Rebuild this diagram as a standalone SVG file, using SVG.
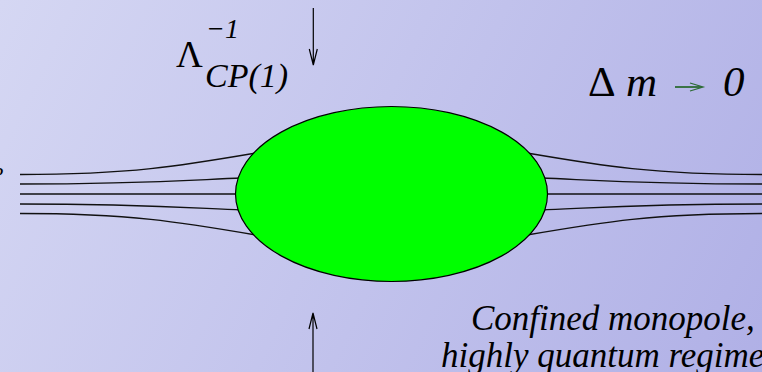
<svg xmlns="http://www.w3.org/2000/svg" width="762" height="372" viewBox="0 0 762 372">
<defs>
<linearGradient id="bg" x1="0" y1="0" x2="762" y2="372" gradientUnits="userSpaceOnUse">
<stop offset="0" stop-color="#d5d7f3"/>
<stop offset="1" stop-color="#b0b0e6"/>
</linearGradient>
<style>
.fl{fill:none;stroke:#111;stroke-width:1.3}
.ar{fill:none;stroke:#000;stroke-width:1.2}
text{font-family:'Liberation Serif','Times New Roman',Times,serif;fill:#000}
.i{font-style:italic}
</style>
</defs>
<rect width="762" height="372" fill="url(#bg)"/>
<g id="connectors">
<path class="fl" d="M20,174.5 C130,174.5 180,166 256,153"/>
<path class="fl" d="M20,184 C140,184 190,180 242,178"/>
<path class="fl" d="M20,194 L245,194"/>
<path class="fl" d="M20,204 C140,204 190,208 242,210"/>
<path class="fl" d="M20,213.5 C130,213.5 180,222 256,235"/>
<path class="fl" d="M527,153 C603,166 653,174.5 763,174.5 L770,174.5"/>
<path class="fl" d="M541,178 C593,180 643,184 763,184 L770,184"/>
<path class="fl" d="M538,194 L770,194"/>
<path class="fl" d="M541,210 C593,208 643,204 763,204 L770,204"/>
<path class="fl" d="M527,235 C603,222 653,213.5 763,213.5 L770,213.5"/>
<path class="ar" d="M313.3,8 L313.3,65 M309.3,49 L313.3,65 L317.3,49"/>
<path class="ar" d="M313,372 L313,313 M309,329 L313,313 L317,329"/>
</g>
<g id="monopole">
<ellipse cx="391.5" cy="194" rx="156" ry="87.5" fill="#00ff00" stroke="#000" stroke-width="1.2"/>
</g>
<g id="lambda-label">
<text x="176" y="67" font-size="37">Λ</text>
<text class="i" x="206" y="38" font-size="28">−1</text>
<text class="i" x="205" y="87" font-size="34">CP(1)</text>
</g>
<g id="delta-m-label">
<text x="588" y="96" font-size="43">Δ</text>
<text class="i" x="626" y="96" font-size="43">m</text>
<path d="M675,87 L702,87" stroke="#2d6b35" stroke-width="1.8" fill="none"/>
<path d="M690,83 L703,87 L690,91" stroke="#2d6b35" stroke-width="1.3" fill="none"/>
<text class="i" x="723" y="96" font-size="43">0</text>
</g>
<g id="caption">
<text class="i" x="471" y="330" font-size="35">Confined monopole,</text>
<text class="i" x="441" y="367" font-size="35">highly quantum regime</text>
</g>
<g id="edge-glyph">
<text class="i" x="-8" y="182" font-size="22">?</text>
</g>
</svg>
